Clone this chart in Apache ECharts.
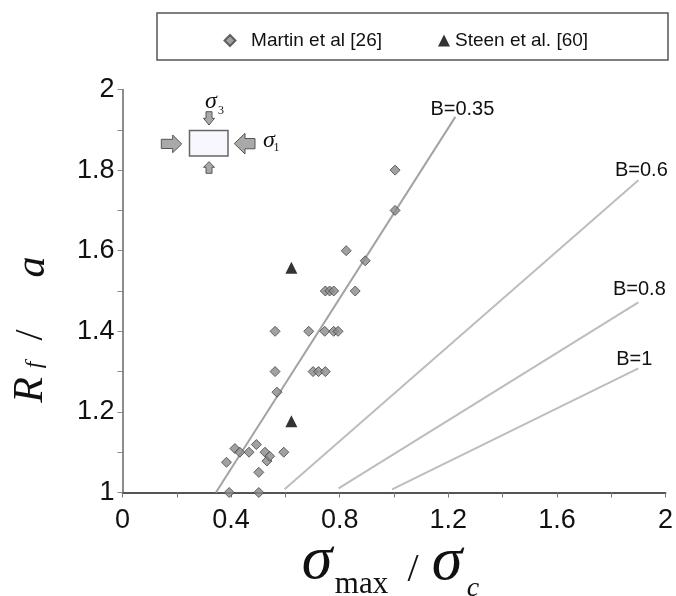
<!DOCTYPE html>
<html>
<head>
<meta charset="utf-8">
<script src="https://cdn.jsdelivr.net/npm/echarts@6/dist/echarts.min.js"></script>
<style>html,body{margin:0;padding:0;background:#fff}#c{width:676px;height:596px}</style>
</head>
<body>
<div id="c"></div>
<script>
// ---- data ----
const martinName = 'Martin et al [26]';
const steenName = 'Steen et al. [60]';
const martinX = [0.383,0.393,0.414,0.432,0.466,0.493,0.502,0.502,0.525,0.532,0.542,0.562,0.562,0.569,0.594,0.686,0.702,0.722,0.745,0.747,0.747,0.763,0.778,0.778,0.794,0.824,0.857,0.894,1.004,1.004];
const martinY = [1.075,1.0,1.109,1.100,1.100,1.119,1.0,1.050,1.100,1.078,1.090,1.300,1.400,1.249,1.100,1.400,1.300,1.300,1.400,1.300,1.500,1.500,1.500,1.400,1.400,1.600,1.500,1.575,1.800,1.700];
const steenX = [0.622,0.622];
const steenY = [1.558,1.177];
const lineNames = ['B=0.35','B=0.6','B=0.8','B=1'];
const lineB035X = [0.344,1.226];
const lineB035Y = [1.0,1.932];
const lineB06X = [0.597,1.900];
const lineB06Y = [1.008,1.775];
const lineB08X = [0.796,1.900];
const lineB08Y = [1.010,1.472];
const lineB1X = [0.993,1.900];
const lineB1Y = [1.008,1.308];
const xTickLabels = ['0','0.4','0.8','1.2','1.6','2'];
const yTickLabels = ['1','1.2','1.4','1.6','1.8','2'];

const pairs = (xs, ys) => xs.map((x, i) => [x, ys[i]]);
const tickFmt = labels => v => {
  const l = labels.find(s => Math.abs(parseFloat(s) - v) < 1e-6);
  return l === undefined ? '' : l;
};

const SANS = '"Liberation Sans", Arial, sans-serif';
const SERIF = '"Liberation Serif", "Times New Roman", serif';

const lineStyles = [
  {color:'#a3a3a3', offset:[7,3]},
  {color:'#bdbdbd', offset:[3,0]},
  {color:'#bdbdbd', offset:[1,-3]},
  {color:'#bdbdbd', offset:[-4,1]}
];
const lineSets = [[lineB035X,lineB035Y],[lineB06X,lineB06Y],[lineB08X,lineB08Y],[lineB1X,lineB1Y]];
const lineSeries = lineSets.map((s, k) => {
  const pts = pairs(s[0], s[1]);
  return {
    type: 'line',
    name: lineNames[k],
    data: pts.map((p, i) => i === pts.length - 1
      ? {value: p, label: {show: true, position: 'top', distance: 0, offset: lineStyles[k].offset,
          formatter: lineNames[k], fontFamily: SANS, fontSize: 20, color: '#111'}}
      : {value: p}),
    showSymbol: true,
    symbol: 'circle',
    symbolSize: 0,
    itemStyle: {color: lineStyles[k].color},
    lineStyle: {color: lineStyles[k].color, width: 2},
    label: {show: false},
    silent: true,
    z: 1
  };
});

const chart = echarts.init(document.getElementById('c'), null, {renderer: 'canvas'});

function arrow(points) {
  return {type: 'polygon', shape: {points}, style: {fill: '#a9a9a9', stroke: '#555', lineWidth: 1}, z: 100};
}
function txt(text, x, y, font, opts) {
  opts = opts || {};
  return {type: 'text', x, y, rotation: opts.rotation || 0, z: 100,
    style: {text, font, fill: '#111', textAlign: opts.align || 'center', textVerticalAlign: 'middle', verticalAlign: 'middle'}};
}

chart.setOption({
  animation: false,
  backgroundColor: '#fff',
  grid: {left: 122.5, right: 9, top: 89.5, bottom: 103.5, containLabel: false},
  xAxis: {
    type: 'value', min: 0, max: 2, interval: 0.2,
    axisLine: {show: true, lineStyle: {color: '#555', width: 2}},
    axisTick: {show: true, length: 5, lineStyle: {color: '#777', width: 1}},
    splitLine: {show: false},
    axisLabel: {formatter: tickFmt(xTickLabels), fontFamily: SANS, fontSize: 27, color: '#111', margin: 15}
  },
  yAxis: {
    type: 'value', min: 1, max: 2, interval: 0.1,
    axisLine: {show: true, lineStyle: {color: '#666', width: 1.5}},
    axisTick: {show: true, length: 5, lineStyle: {color: '#888', width: 1}},
    splitLine: {show: false},
    axisLabel: {formatter: tickFmt(yTickLabels), fontFamily: SANS, fontSize: 27, color: '#111', margin: 8}
  },
  legend: [
    {data: [martinName], left: 218.5, top: 26, itemWidth: 11, itemHeight: 11, itemGap: 0,
     formatter: name => '  ' + name,
     textStyle: {fontFamily: SANS, fontSize: 19, color: '#111'}},
    {data: [steenName], left: 433, top: 26, itemWidth: 12, itemHeight: 12, itemGap: 0,
     textStyle: {fontFamily: SANS, fontSize: 19, color: '#111'}}
  ],
  series: lineSeries.concat([
    {
      type: 'scatter', name: martinName, data: pairs(martinX, martinY),
      symbol: 'diamond', symbolSize: 10,
      itemStyle: {color: '#8a8a8a', borderColor: '#444', borderWidth: 1}, z: 3
    },
    {
      type: 'scatter', name: steenName, data: pairs(steenX, steenY),
      symbol: 'triangle', symbolSize: 12,
      itemStyle: {color: '#000'}, z: 4
    }
  ]),
  graphic: [
    {type: 'rect', shape: {x: 157, y: 13, width: 511, height: 47}, style: {fill: 'none', stroke: '#555', lineWidth: 1.5}, z: 100},
    // inset diagram
    {type: 'rect', shape: {x: 189.5, y: 130.5, width: 38.5, height: 25.5}, style: {fill: '#f7f7fd', stroke: '#666', lineWidth: 1.5}, z: 100},
    arrow([[161.3,139.3],[172.7,139.3],[172.7,135],[181.7,144],[172.7,152.7],[172.7,148.5],[161.3,148.5]]),
    arrow([[255,138.5],[245,138.5],[245,133.3],[234.3,143.6],[245,154],[245,148.8],[255,148.8]]),
    arrow([[206,111.7],[212,111.7],[212,118.3],[214.5,118.3],[209,125],[203.5,118.3],[206,118.3]]),
    arrow([[209,161.7],[214.5,167.3],[212,167.3],[212,173.3],[206,173.3],[206,167.3],[203.5,167.3]]),
    txt('σ', 211, 101.5, 'italic 24px ' + SERIF),
    txt('3', 221, 110.5, '12px ' + SERIF),
    txt('σ', 269, 140.5, 'italic 24px ' + SERIF),
    txt('1', 276.5, 147.5, '12px ' + SERIF),
    // x axis title
    txt('σ', 317, 562, 'italic 62px ' + SERIF),
    txt('max', 361.5, 585, '31px ' + SERIF),
    txt('/', 413, 570, '40px ' + SERIF),
    txt('σ', 447, 563, 'italic 62px ' + SERIF),
    txt('c', 473, 589, 'italic 28px ' + SERIF),
    // y axis title (rotated)
    txt('R', 31, 390, 'italic 42px ' + SERIF, {rotation: Math.PI / 2}),
    txt('f', 35, 365, 'italic 24px ' + SERIF, {rotation: Math.PI / 2}),
    txt('/', 31, 335, '40px ' + SERIF, {rotation: Math.PI / 2}),
    txt('a', 33, 267, 'italic 42px ' + SERIF, {rotation: Math.PI / 2})
  ]
});
</script>
</body>
</html>
